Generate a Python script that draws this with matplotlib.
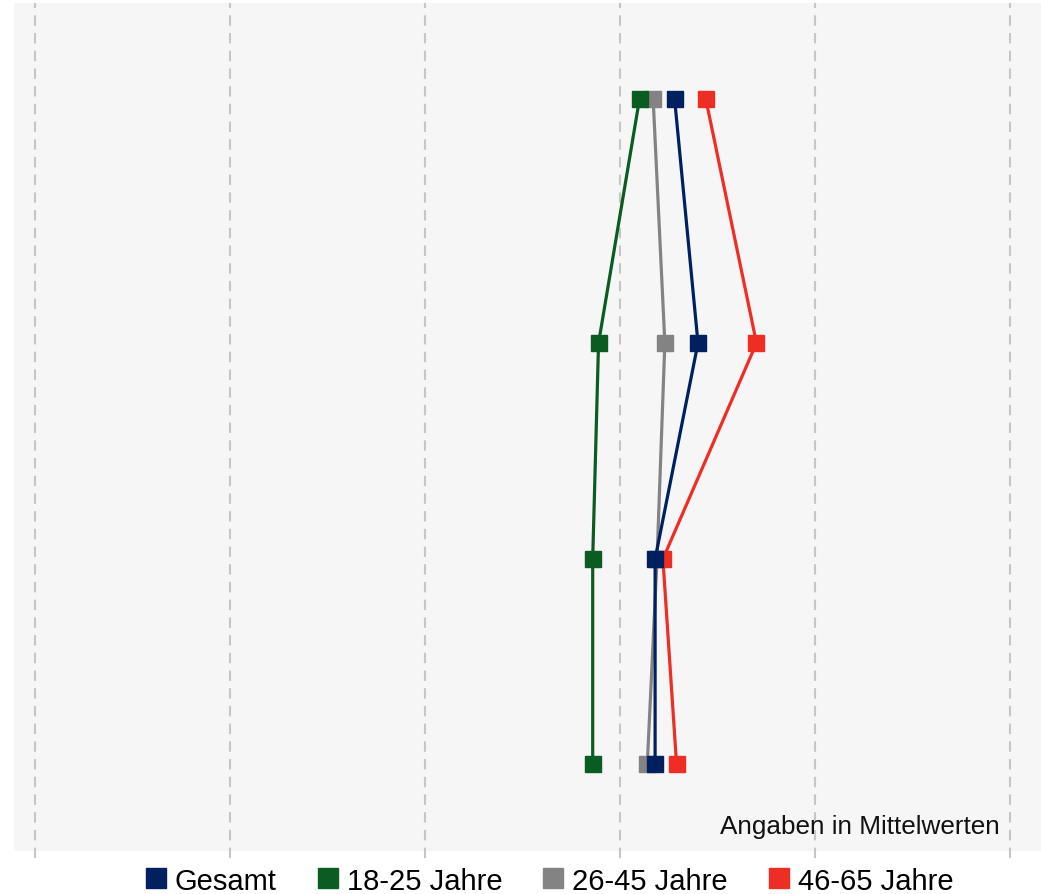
import matplotlib.pyplot as plt
from matplotlib.lines import Line2D

plt.rcParams['font.family'] = ['Liberation Sans', 'DejaVu Sans']

# scale steps shown as dashed guide lines
scale = [1, 2, 3, 4, 5, 6]

# vertical position of each item row (top to bottom)
item_pos = [1.00, 3.44, 5.60, 7.65]

groups = ['Gesamt', '18-25 Jahre', '26-45 Jahre', '46-65 Jahre']
gesamt = [4.28, 4.40, 4.18, 4.18]
jahre_18_25 = [4.10, 3.89, 3.86, 3.86]
jahre_26_45 = [4.17, 4.23, 4.19, 4.14]
jahre_46_65 = [4.44, 4.70, 4.22, 4.29]

colors = ['#00205f', '#0a5c22', '#838383', '#ee2e24']

fig = plt.figure(figsize=(10.41, 8.95), dpi=100)
ax = fig.add_axes([0.0134, 0.048, 0.9866, 0.9475])
ax.set_facecolor('#f6f6f6')

for v in scale:
    ax.axvline(v, ymin=-0.008, ymax=1, color='#c6c6c6', lw=1.5,
               linestyle=(0, (5, 3.5)), clip_on=False, zorder=1)

series = [gesamt, jahre_18_25, jahre_26_45, jahre_46_65]
# gray at the back, navy on top
for i in [2, 1, 3, 0]:
    ax.plot(series[i], item_pos, color=colors[i], lw=2.3, marker='s',
            markersize=11, zorder=3)

ax.set_xlim(0.892, 6.159)
ax.set_ylim(8.52, 0.04)
ax.set_xticks([])
ax.set_yticks([])
for s in ax.spines.values():
    s.set_visible(False)

ax.text(0.960, 0.030, 'Angaben in Mittelwerten', transform=ax.transAxes,
        ha='right', va='center', fontsize=18.8, color='#111111')

handles = [Line2D([], [], color=c, marker='s', linestyle='none',
                  markersize=14) for c in colors]
fig.legend(handles, groups, loc='lower center', bbox_to_anchor=(0.528, -0.030),
           ncol=4, frameon=False, fontsize=21, handlelength=0.7,
           handletextpad=0.3, columnspacing=1.4)

fig.savefig('out.png', dpi=100)
